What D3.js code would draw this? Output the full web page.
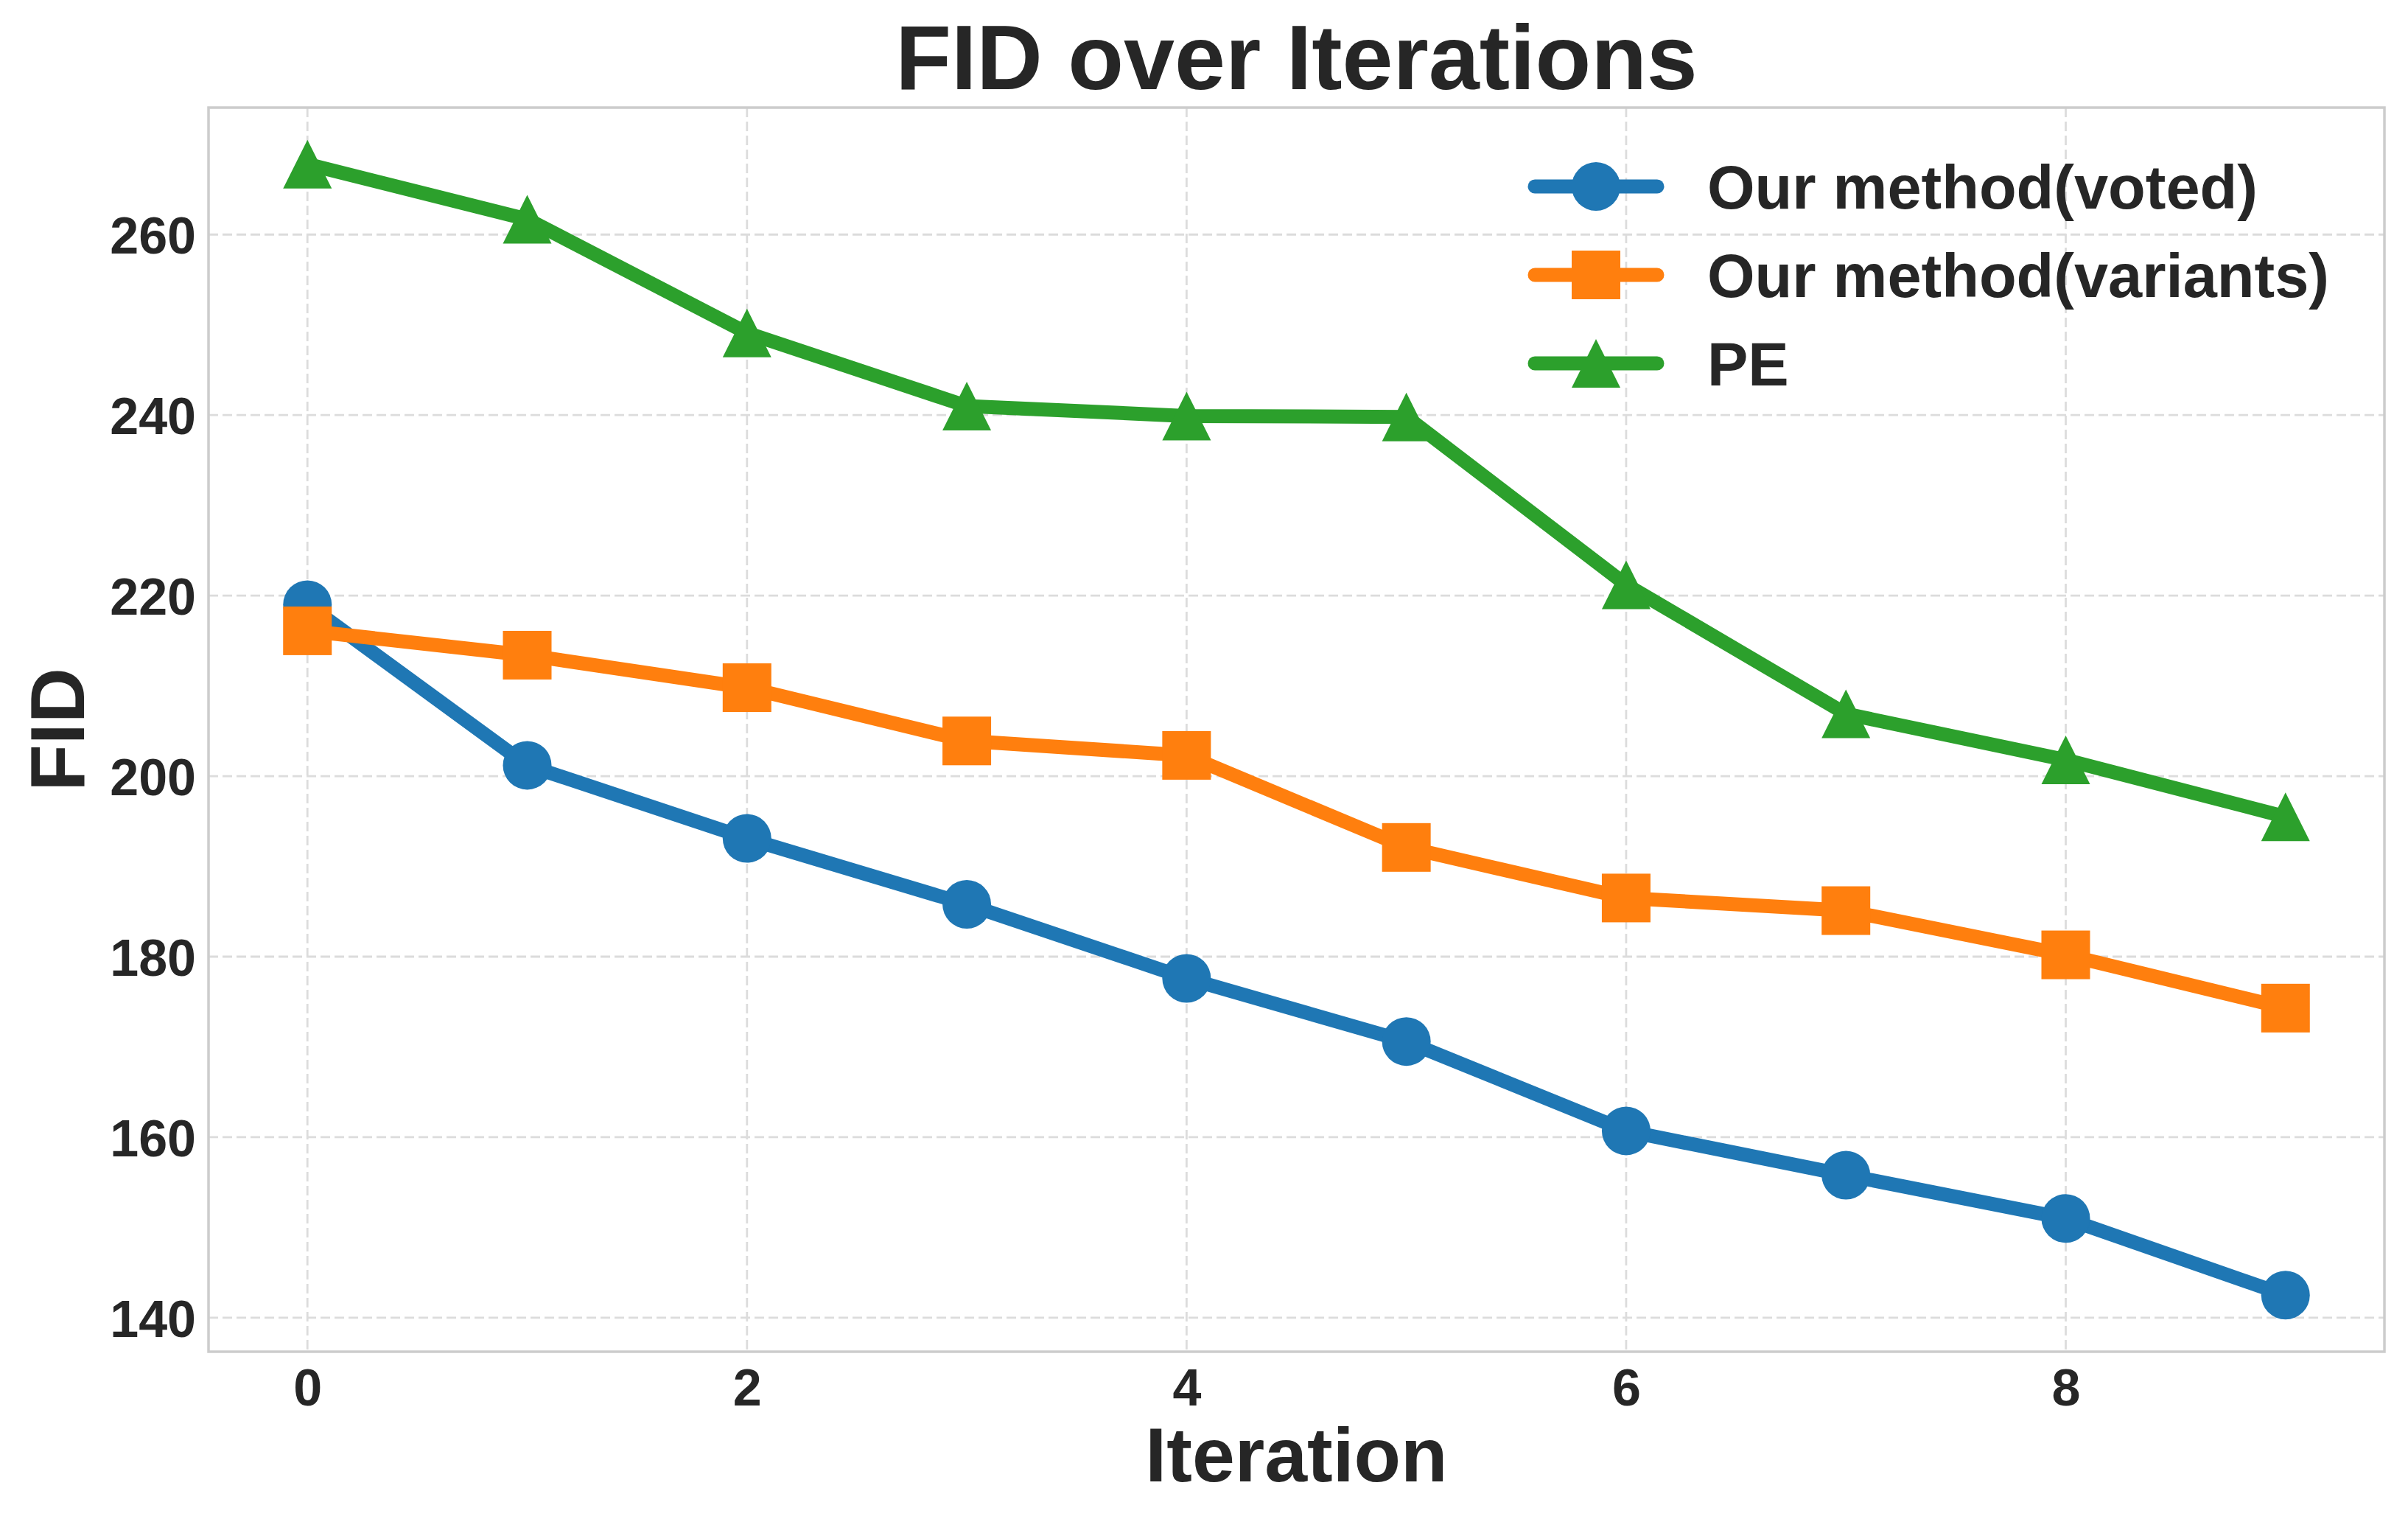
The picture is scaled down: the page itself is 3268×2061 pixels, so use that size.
<!DOCTYPE html>
<html>
<head>
<meta charset="utf-8">
<script src="https://cdn.jsdelivr.net/npm/d3@7"></script>
<style>
    html, body { margin: 0; padding: 0; background: #fff; }
    text { font-family: "Liberation Sans", Arial, sans-serif; font-weight: bold; fill: #262626; }
</style>
</head>
<body>
<div class="chart-ctn"></div>
<script>
const iterations = [0, 1, 2, 3, 4, 5, 6, 7, 8, 9];
const votedValues = [219.0, 201.2, 193.1, 185.8, 177.6, 170.6, 160.7, 155.8, 151.0, 142.5];
const variantsValues = [216.1, 213.4, 209.8, 203.9, 202.3, 192.1, 186.5, 185.1, 180.2, 174.3];
const peValues = [267.8, 261.7, 249.1, 241.0, 239.9, 239.8, 221.2, 206.9, 201.8, 195.5];
const seriesNames = ['Our method(voted)', 'Our method(variants)', 'PE'];
const xTicks = [0, 2, 4, 6, 8];
const yTicks = [140, 160, 180, 200, 220, 240, 260];

const w = 3268, h = 2061;
const padding = { left: 283, right: 32, top: 146, bottom: 227 };

const series = [
    { name: seriesNames[0], values: votedValues, color: '#1f77b4', marker: 'circle' },
    { name: seriesNames[1], values: variantsValues, color: '#ff7f0e', marker: 'square' },
    { name: seriesNames[2], values: peValues, color: '#2ca02c', marker: 'triangle' }
];

let svg = d3.select('.chart-ctn')
    .append('svg')
    .attr('width', w)
    .attr('height', h)
    .style('background-color', 'white');

// matplotlib style 5% margins
const xMin = d3.min(iterations), xMax = d3.max(iterations);
const xPad = (xMax - xMin) * 0.05;
const allVals = votedValues.concat(variantsValues, peValues);
const yMin = d3.min(allVals), yMax = d3.max(allVals);
const yPad = (yMax - yMin) * 0.05;

let x = d3.scaleLinear()
    .domain([xMin - xPad, xMax + xPad])
    .range([padding.left, w - padding.right]);

let y = d3.scaleLinear()
    .domain([yMin - yPad, yMax + yPad])
    .range([h - padding.bottom, padding.top]);

// grid
const grid = svg.append('g').attr('class', 'grid');
grid.selectAll('.vgrid')
    .data(xTicks)
    .join('line')
    .attr('x1', d => x(d)).attr('x2', d => x(d))
    .attr('y1', padding.top).attr('y2', h - padding.bottom)
    .attr('stroke', '#dcdcdc')
    .attr('stroke-width', 2.8)
    .attr('stroke-dasharray', '13,6');
grid.selectAll('.hgrid')
    .data(yTicks)
    .join('line')
    .attr('x1', padding.left).attr('x2', w - padding.right)
    .attr('y1', d => y(d)).attr('y2', d => y(d))
    .attr('stroke', '#dcdcdc')
    .attr('stroke-width', 2.8)
    .attr('stroke-dasharray', '13,6');

// axes (tick labels only, no tick marks)
const xAxis = d3.axisBottom(x).tickValues(xTicks).tickSize(0).tickPadding(20);
const yAxis = d3.axisLeft(y).tickValues(yTicks).tickSize(0).tickPadding(17);

const gx = svg.append('g')
    .attr('id', 'x-axis')
    .attr('transform', 'translate(0,' + (h - padding.bottom) + ')')
    .call(xAxis);
gx.select('.domain').remove();
gx.selectAll('text')
    .style('font-size', '70px')
    .attr('fill', '#262626')
    .attr('dy', '0.76em');

const gy = svg.append('g')
    .attr('id', 'y-axis')
    .attr('transform', 'translate(' + padding.left + ',0)')
    .call(yAxis);
gy.select('.domain').remove();
gy.selectAll('text')
    .style('font-size', '70px')
    .attr('fill', '#262626')
    .attr('dy', '0.36em');

// spines
svg.append('rect')
    .attr('x', padding.left)
    .attr('y', padding.top)
    .attr('width', w - padding.left - padding.right)
    .attr('height', h - padding.top - padding.bottom)
    .attr('fill', 'none')
    .attr('stroke', '#cccccc')
    .attr('stroke-width', 3.5);

const markerSize = 66;
function drawMarker(g, type, cx, cy, color) {
    if (type === 'circle') {
        g.append('circle').attr('cx', cx).attr('cy', cy).attr('r', markerSize / 2).attr('fill', color);
    } else if (type === 'square') {
        g.append('rect')
            .attr('x', cx - markerSize / 2).attr('y', cy - markerSize / 2)
            .attr('width', markerSize).attr('height', markerSize)
            .attr('fill', color);
    } else {
        const s = markerSize / 2;
        g.append('path')
            .attr('d', `M${cx},${cy - s}L${cx - s},${cy + s}L${cx + s},${cy + s}Z`)
            .attr('fill', color);
    }
}

// lines + markers
for (let i = 0; i < series.length; i++) {
    const g = svg.append('g').attr('class', 'series-' + i);
    g.append('path')
        .datum(series[i].values)
        .attr('fill', 'none')
        .attr('stroke', series[i].color)
        .attr('stroke-width', 19)
        .attr('stroke-linejoin', 'round')
        .attr('stroke-linecap', 'round')
        .attr('d', d3.line()
            .x((d, j) => x(iterations[j]))
            .y(d => y(d))
        );
    series[i].values.forEach((v, j) => drawMarker(g, series[i].marker, x(iterations[j]), y(v), series[i].color));
}

// legend
const legend = svg.append('g').attr('class', 'legend');
series.forEach((s, i) => {
    const ly = 253 + i * 120;
    legend.append('line')
        .attr('x1', 2083).attr('x2', 2249)
        .attr('y1', ly).attr('y2', ly)
        .attr('stroke', s.color)
        .attr('stroke-width', 19)
        .attr('stroke-linecap', 'round');
    drawMarker(legend, s.marker, 2166, ly, s.color);
    legend.append('text')
        .attr('x', 2317)
        .attr('y', ly)
        .attr('dy', '0.36em')
        .style('font-size', '83px')
        .text(s.name);
});

// title and labels
const plotCx = (padding.left + w - padding.right) / 2;
svg.append('text')
    .attr('x', plotCx)
    .attr('y', 121)
    .attr('text-anchor', 'middle')
    .style('font-size', '124px')
    .text('FID over Iterations');

svg.append('text')
    .attr('x', plotCx)
    .attr('y', 2010)
    .attr('text-anchor', 'middle')
    .style('font-size', '104px')
    .text('Iteration');

svg.append('text')
    .attr('x', -(padding.top + h - padding.bottom) / 2)
    .attr('y', 114)
    .attr('transform', 'rotate(-90)')
    .attr('text-anchor', 'middle')
    .style('font-size', '104px')
    .text('FID');
</script>
</body>
</html>
